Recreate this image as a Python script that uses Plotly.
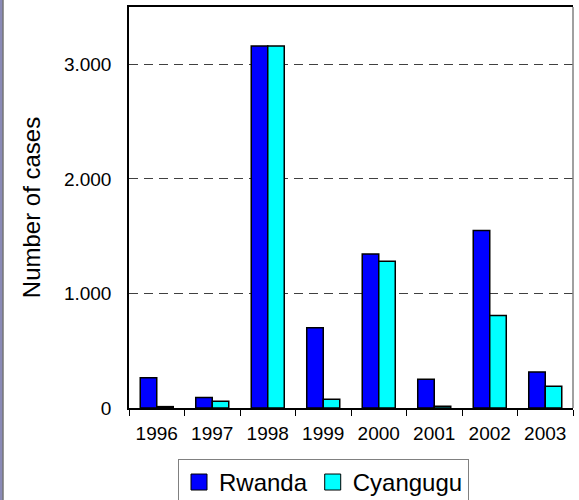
import plotly.graph_objects as go

# reported cases per year
years = ['1996', '1997', '1998', '1999', '2000', '2001', '2002', '2003']
rwanda = [265, 92, 3160, 700, 1345, 250, 1550, 315]
cyangugu = [12, 60, 3160, 76, 1280, 15, 807, 190]

W, H = 579, 500
L, R, T, B = 129, 6, 7, 92
plot_w = W - L - R

font = 'Liberation Sans, Arial, sans-serif'
blue = '#0000FF'
cyan = '#00FFFF'


def px_to_paper_x(px):
    return (px - L) / plot_w


fig = go.Figure()

for name, vals, col in [('Rwanda', rwanda, blue), ('Cyangugu', cyangugu, cyan)]:
    fig.add_trace(
        go.Bar(
            x=years,
            y=vals,
            name=name,
            showlegend=False,
            marker=dict(color=col, line=dict(color='#000000', width=1.5)),
        )
    )

# legend entries with bigger square swatches than the bar default
for name, col in [('Rwanda', blue), ('Cyangugu', cyan)]:
    fig.add_trace(
        go.Scatter(
            x=[None],
            y=[None],
            name=name,
            mode='markers',
            marker=dict(symbol='square', size=16, color=col,
                        line=dict(color='#000000', width=1)),
        )
    )

# slide border on the far left
fig.add_shape(type='rect', xref='paper', yref='paper',
              x0=px_to_paper_x(0), x1=px_to_paper_x(2.5), y0=-1, y1=2,
              fillcolor='#8a8ab6', line=dict(width=0), layer='above')
fig.add_shape(type='line', xref='paper', yref='paper',
              x0=px_to_paper_x(3), x1=px_to_paper_x(3), y0=-1, y1=2,
              line=dict(color='#303030', width=1), layer='above')
# grey right edge of the plot frame
fig.add_shape(type='line', xref='paper', yref='paper',
              x0=1, x1=1, y0=0, y1=1,
              line=dict(color='#808080', width=1.5), layer='above')

fig.update_layout(
    width=W,
    height=H,
    margin=dict(l=L, r=R, t=T, b=B, autoexpand=False),
    paper_bgcolor='white',
    plot_bgcolor='white',
    barmode='group',
    bargap=0.405,
    bargroupgap=0,
    separators=',.',
    font=dict(family=font, color='#000000', size=19),
    showlegend=True,
    legend=dict(
        orientation='h',
        x=px_to_paper_x(178),
        y=-0.127,
        xanchor='left',
        yanchor='top',
        bgcolor='white',
        bordercolor='#808080',
        borderwidth=1,
        font=dict(family=font, size=24, color='#000000'),
        traceorder='normal',
    ),
    xaxis=dict(
        type='category',
        showgrid=False,
        showline=True,
        linecolor='#000000',
        linewidth=1.5,
        mirror=True,
        ticks='outside',
        tickson='boundaries',
        ticklen=6,
        tickcolor='#000000',
        ticklabelstandoff=7,
        tickfont=dict(family=font, size=19),
    ),
    yaxis=dict(
        range=[0, 3500],
        dtick=1000,
        tickformat=',d',
        showgrid=True,
        gridcolor='#404040',
        gridwidth=1,
        griddash='9px,6px',
        zeroline=False,
        showline=True,
        linecolor='#000000',
        linewidth=1.5,
        ticks='',
        ticklabelstandoff=12,
        tickfont=dict(family=font, size=19),
        title=dict(text='Number of cases', font=dict(family=font, size=24),
                   standoff=17),
    ),
)

# drop the browser's default page margin so the chart sits at the corner
fig.write_html('out.html', config={'displayModeBar': False},
               post_script="document.body.style.margin='0';")
